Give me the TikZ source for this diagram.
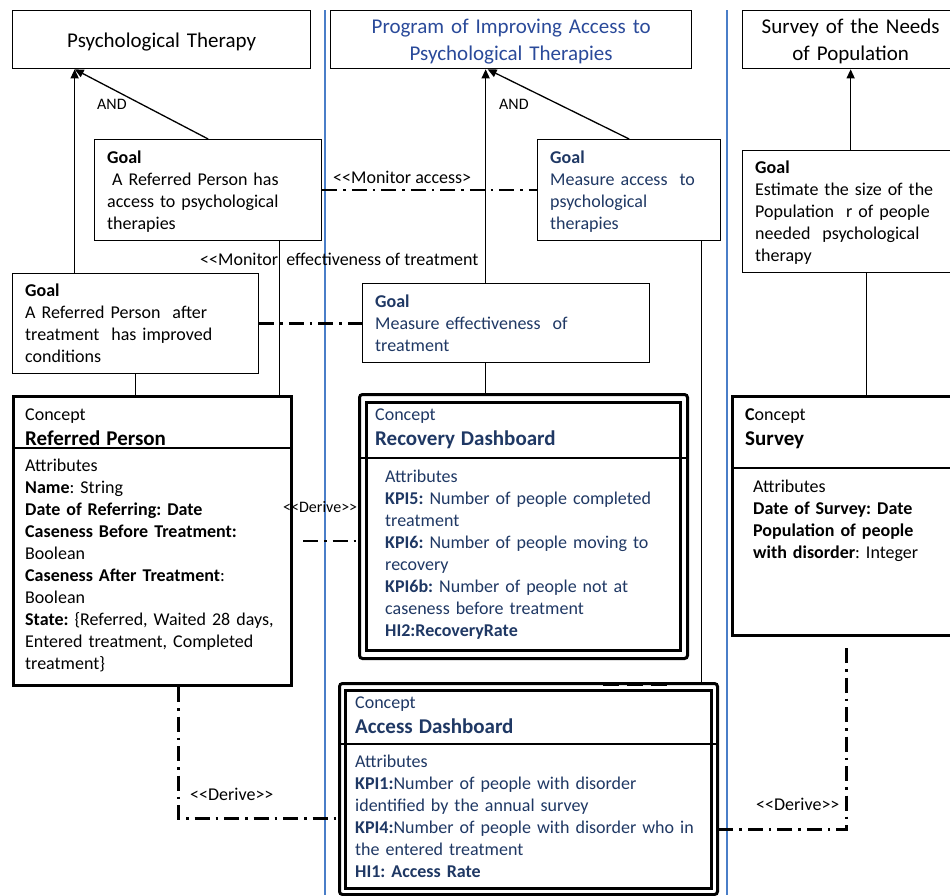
\documentclass[tikz,border=0pt]{standalone}
\usepackage{fontspec}
\setmainfont{Carlito}[Ligatures=TeXOff]
\usetikzlibrary{arrows.meta}
\definecolor{navy}{HTML}{1F3864}
\definecolor{titleblue}{HTML}{2A4A9A}
\definecolor{laneblue}{HTML}{4A7EC8}
\newcommand{\bodysize}{\fontsize{18}{22}\selectfont}
\newcommand{\headsize}{\fontsize{21}{25}\selectfont\bfseries}
\frenchspacing

\begin{document}
\begin{tikzpicture}[x=1pt, y=-1pt,
  box/.style={draw, line width=1.3pt, anchor=north west, inner sep=0pt},
  conceptbox/.style={draw, line width=3pt, anchor=north west, inner sep=0pt},
  txt/.style={anchor=base west, inner sep=0pt, text width=#1, align=left, font=\bodysize},
  txt/.default=330,
  titletxt/.style={anchor=base, inner sep=0pt, text width=#1, align=center, font=\fontsize{21}{27}\selectfont},
  lbl/.style={anchor=base west, inner sep=0pt, font=\bodysize},
  arr/.style={line width=1.3pt, -{Triangle[length=9pt, width=8pt]}},
  link/.style={line width=1.3pt},
  derive/.style={line width=2.4pt, dash pattern=on 15pt off 6pt on 2.5pt off 6pt},
  sep/.style={line width=1.3pt},
  lane/.style={draw=laneblue, line width=1.2pt}
]
  \useasboundingbox (0,0) rectangle (950,895);
  \clip (0,0) rectangle (950,895);
  \fill[white] (0,0) rectangle (950,895);

  \draw[lane] (325,10) -- (325,895);
  \draw[lane] (727,10) -- (727,895);

  \node[box, minimum width=298, minimum height=58] (therapy) at (12,10) {};
  \node[box, minimum width=361, minimum height=58] (iapt) at (330,10) {};
  \node[box, minimum width=216, minimum height=58] (needs) at (742,10) {};
  \node[titletxt=290] (therapytxt) at ([yshift=-37pt]therapy.north) {Psychological Therapy};
  \node[titletxt=350, text=titleblue] (iapttxt) at ([yshift=-23pt]iapt.north)
    {Program of Improving Access to\\Psychological Therapies};
  \node[titletxt=216] (needstxt) at ([yshift=-23pt]needs.north) {Survey of the Needs\\of Population};

  \node[box, minimum width=227, minimum height=101] (accgoal) at (94,139) {};
  \node[box, minimum width=246, minimum height=100] (effgoal) at (12,273) {};
  \node[box, minimum width=183, minimum height=101] (measacc) at (537,139) {};
  \node[box, minimum width=287, minimum height=79] (measeff) at (362,283) {};
  \node[box, minimum width=216, minimum height=122] (estgoal) at (742,150) {};

  \node[txt] (accgoaltxt) at ([shift={(13,24)}]accgoal.north west)
    {\textbf{Goal}\\\hspace{5pt}A Referred Person has\\access to psychological\\therapies};
  \node[txt] (effgoaltxt) at ([shift={(13,23)}]effgoal.north west)
    {\textbf{Goal}\\A Referred Person~ after\\treatment~ has improved\\conditions};
  \node[txt, text=navy] (measacctxt) at ([shift={(13,24)}]measacc.north west)
    {\textbf{Goal}\\Measure access~ to\\psychological\\therapies};
  \node[txt, text=navy] (measefftxt) at ([shift={(13,24)}]measeff.north west)
    {\textbf{Goal}\\Measure effectiveness~ of\\treatment};
  \node[txt] (estgoaltxt) at ([shift={(13,23)}]estgoal.north west)
    {\textbf{Goal}\\Estimate the size of the\\Population~ r of people\\needed~ psychological\\therapy};

  \node[conceptbox, minimum width=278, minimum height=289] (refp) at (12,395) {};
  \node[conceptbox, minimum width=328, minimum height=264, rounded corners=3pt] (recov) at (358,393) {};
  \node[conceptbox, minimum width=314, minimum height=248] (recovin) at (365,401) {};
  \node[conceptbox, minimum width=378, minimum height=211, rounded corners=3pt] (access) at (338,682) {};
  \node[conceptbox, minimum width=366, minimum height=198] (accessin) at (344,689) {};
  \node[conceptbox, minimum width=240, minimum height=239] (survey) at (731,395) {};

  \draw[sep] ([yshift=-53pt]refp.north west) -- ([yshift=-53pt]refp.north east);
  \draw[sep] ([yshift=-65pt]recov.north west) -- ([yshift=-65pt]recov.north east);
  \draw[sep] ([yshift=-62pt]access.north west) -- ([yshift=-62pt]access.north east);
  \draw[sep] ([yshift=-73pt]survey.north west) -- ([yshift=-73pt]survey.north east);

  \node[txt] (refphead) at ([shift={(13,25)}]refp.north west)
    {Concept\\[3pt]{\headsize Referred Person}};
  \node[txt] (refpbody) at ([shift={(13,76)}]refp.north west)
    {Attributes\\
     \textbf{Name}: String\\
     \textbf{Date of Referring: Date}\\
     \textbf{Caseness Before Treatment:}\\
     Boolean\\
     \textbf{Caseness After Treatment}:\\
     Boolean\\
     \textbf{State:} \{Referred, Waited 28 days,\\
     Entered treatment, Completed\\
     treatment\}};

  \node[txt, text=navy] (recovhead) at ([shift={(17,27)}]recov.north west)
    {Concept\\[3pt]{\headsize Recovery Dashboard}};
  \node[txt, text=navy] (recovbody) at ([shift={(27,89)}]recov.north west)
    {Attributes\\
     \textbf{KPI5:} Number of people completed\\
     treatment\\
     \textbf{KPI6:} Number of people moving to\\
     recovery\\
     \textbf{KPI6b:} Number of people not at\\
     caseness before treatment\\
     \textbf{HI2:RecoveryRate}};

  \node[txt, text=navy] (accesshead) at ([shift={(17,26)}]access.north west)
    {Concept\\[3pt]{\headsize Access Dashboard}};
  \node[txt=380, text=navy] (accessbody) at ([shift={(17,85)}]access.north west)
    {Attributes\\
     \textbf{KPI1:}Number of people with disorder\\
     identified by the annual survey\\
     \textbf{KPI4:}Number of people with disorder who in\\
     the entered treatment\\
     \textbf{HI1: Access Rate}};

  \node[txt] (surveyhead) at ([shift={(14,25)}]survey.north west)
    {\textbf{C}oncept\\[3pt]{\headsize Survey}};
  \node[txt] (surveybody) at ([shift={(22,97)}]survey.north west)
    {Attributes\\
     \textbf{Date of Survey: Date}\\
     \textbf{Population of people}\\
     \textbf{with disorder}: Integer};

  \coordinate (effup) at ([xshift=-61pt]effgoal.north);
  \draw[arr] (effup) -- (effup |- therapy.south);
  \draw[arr] (accgoal.north) -- (effup |- therapy.south);
  \coordinate (measup) at ([xshift=-20.5pt]measeff.north);
  \draw[arr] (measup) -- (measup |- iapt.south);
  \draw[arr] (measacc.north) -- ([xshift=2pt]measup |- iapt.south);
  \draw[arr] (estgoal.north) -- (estgoal.north |- needs.south);

  \node[lbl, font=\fontsize{16}{20}\selectfont] (and1) at (97,109) {AND};
  \node[lbl, font=\fontsize{16}{20}\selectfont] (and2) at (499,109) {AND};

  \coordinate (accdown) at ([xshift=71.5pt]accgoal.south);
  \draw[link] (accdown) -- (accdown |- refp.north);
  \draw[link] (effgoal.south) -- (effgoal.south |- refp.north);
  \coordinate (measdown) at ([xshift=-20.5pt]measeff.south);
  \draw[link] (measdown) -- (measdown |- recov.north);
  \coordinate (measaccdown) at ([xshift=72.5pt]measacc.south);
  \draw[link] (measaccdown) -- (measaccdown |- access.north);
  \coordinate (estdown) at ([xshift=16pt]estgoal.south);
  \draw[link] (estdown) -- (estdown |- survey.north);
  \draw[line width=2.4pt, dash pattern=on 16pt off 8pt] ([shift={(74pt,-3pt)}]access.north) -- ([shift={(144pt,-3pt)}]access.north);

  \draw[derive] (accgoal.east) -- (measacc.west);
  \node[lbl] (monacc) at (333,183) {<<Monitor access>};
  \draw[derive] (effgoal.east) -- (measeff.west |- effgoal.east);
  \node[lbl] (moneff) at (200,265) {<<Monitor~ effectiveness of treatment};

  \coordinate (refpright) at ([xshift=10pt]refp.east);
  \draw[derive] (refpright) -- (recov.west |- refpright);
  \node[lbl, font=\fontsize{16}{20}\selectfont] (derive1) at (283,512) {<<Derive>>};

  \coordinate (refpdown) at ([xshift=26pt]refp.south);
  \draw[derive] (refpdown) |- ([yshift=-29.5pt]access.west);
  \node[lbl] (derive2) at (190,800) {<<Derive>>};

  \coordinate (surveydown) at ([shift={(-6pt,-11pt)}]survey.south);
  \draw[derive] (surveydown) |- ([yshift=-40.5pt]access.east);
  \node[lbl] (derive3) at (756,810) {<<Derive>>};
\end{tikzpicture}
\end{document}
